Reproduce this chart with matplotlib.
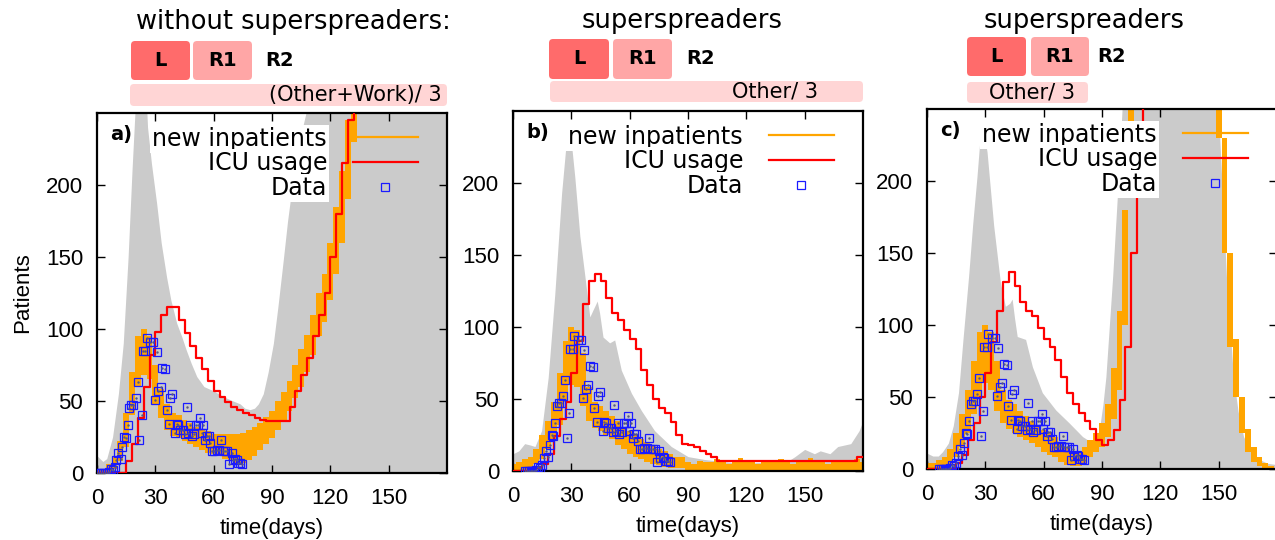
import matplotlib
matplotlib.use('Agg')
import matplotlib.pyplot as plt
import numpy as np
from matplotlib.patches import FancyBboxPatch
from matplotlib.transforms import IdentityTransform
from matplotlib.lines import Line2D

plt.rcParams['font.family'] = ['Liberation Sans', 'DejaVu Sans']

W, H = 1275, 540

# ---- data ----
# observed ICU data, days as in panel a; panels b, c are shifted
data_day = [0, 1, 2, 3, 4, 5, 6, 7, 8, 9, 10,
            11.0, 12.2, 13.0, 13.9, 14.7, 15.8, 16.6, 17.5, 18.7, 19.9,
            20.9, 21.8, 23.0, 23.5, 24.7, 25.6, 27.3, 29.0, 29.8, 30.7,
            31.6, 32.7, 33.6, 35.0, 35.8, 37.0, 37.6, 38.8, 40.1, 41.0,
            41.8, 42.7, 44.4, 45.3, 46.1, 47.0, 47.8, 48.7, 49.9, 50.9,
            52.1, 53.0, 53.8, 54.7, 55.6, 56.4, 57.4, 58.1, 59.3, 60.2,
            61.6, 62.8, 63.8, 64.7, 65.8, 67.0, 68.1, 69.3, 69.8, 71.0,
            71.8, 72.7, 73.6, 74.7]
data_val = [0, 0, 0, 0, 0, 0, 1, 3, 2, 4, 9,
            14, 10, 18, 25, 24, 33, 45, 47, 47, 52,
            63, 23, 40, 85, 85, 94, 91, 91, 51, 84,
            57, 60, 73, 72, 44, 34, 52, 55, 28, 34,
            33, 30, 30, 27, 46, 28, 33, 26, 27, 33,
            33, 38, 28, 33, 23, 26, 26, 21, 15, 15,
            16, 16, 23, 15, 15, 15, 6, 14, 9, 10,
            9, 7, 7, 6]
data_shift = [0, 6, 6]

# simulation envelope (grey)
gray_a_day = [0, 3, 5, 8, 11, 13.5, 16, 18, 19.5, 21, 24, 26, 28, 30.7, 33, 35.8, 38, 41, 43.5, 46,
              48.5, 51.3, 55, 60, 65, 70, 73.6, 76, 78.7, 81, 83, 85.5, 88, 90.7, 93, 95.8, 98, 101,
              104, 107.8, 110, 180]
gray_a_val = [12, 8, 10, 25, 55, 90, 150, 210, 250, 300, 300, 240, 215, 187, 160, 136, 120, 104, 95, 85,
              76, 67, 60, 57, 53, 50, 48, 45, 44, 45, 48, 55, 70, 90, 115, 148, 175, 206,
              230, 252, 300, 300]
gray_b_day = [0, 3, 6, 9, 11.3, 14.7, 18.1, 21.5, 25, 27.5, 28.7, 30, 31.8, 34.4, 37, 39.5, 41.2, 43.3,
              44.5, 46.3, 49.7, 52.3, 55.7, 60.9, 66, 72.8, 81.4, 90, 98.5, 115, 130, 141, 145, 150,
              155, 158, 163, 167, 173.7, 178, 180]
gray_b_val = [12, 14, 19, 18, 17, 28, 65, 123, 193, 230, 240, 228, 204, 163, 135, 107, 112, 118,
              110, 93, 89, 91, 70, 54, 42, 28, 17, 10, 8, 5.5, 6, 6.5, 10, 15,
              12, 14, 12, 17, 19, 28, 35]
gray_c_day = [0, 3, 5.8, 8, 11, 13.5, 16.2, 18.5, 21.4, 23.5, 25.7, 27, 28.3, 29.5, 30.9, 34.3, 37.8,
              40.3, 42.5, 43.8, 45, 46.4, 50.7, 54.2, 59.3, 66.2, 73.1, 80, 85.2, 88.6, 90.5, 92,
              95.5, 99, 100.7, 102, 148, 150.7, 154, 157.6, 160, 162.8, 168, 175, 180]
gray_c_val = [11, 9, 9, 12, 18, 30, 53, 90, 134, 170, 203, 225, 236, 232, 220, 169, 129,
              113, 115, 118, 105, 92, 90, 71, 53, 41, 32, 22.5, 18, 27, 45, 64,
              134, 215, 260, 300, 300, 226, 134, 64, 40, 22.5, 8.6, 4, 3]

# new inpatients (orange band, every 3 days: low / high)
inp_a_lo = [0, 0, 1, 3, 8, 18, 40, 60, 68, 65, 48, 38, 30, 26, 24, 22, 20, 18, 16, 14,
            13, 12, 10, 8, 6, 7, 9, 12, 16, 20, 24, 30, 36, 43, 52, 60, 70, 82, 95, 105,
            120, 138, 160, 190, 230] + [400] * 16
inp_a_hi = [2, 3, 6, 12, 22, 42, 70, 95, 100, 95, 75, 58, 48, 42, 40, 37, 35, 32, 30, 29,
            27, 27, 27, 27, 27, 28, 30, 32, 35, 39, 43, 50, 56, 64, 75, 86, 96, 110, 125, 138,
            160, 185, 210, 245, 300] + [400] * 16
inp_b_lo = [0, 0, 0, 2, 5, 8, 15, 22, 32, 48, 60, 58, 45, 35, 30, 28, 25, 22, 18, 15,
            12, 10, 8, 6, 5, 4, 3, 2, 2, 2,
            1, 1, 1, 1, 0, 1, 1, 1, 1, 1, 1, 1, 1, 1, 0, 1, 1, 1, 1, 1,
            1, 1, 1, 1, 1, 1, 1, 1, 1, 1, 1]
inp_b_hi = [5, 6, 8, 10, 15, 25, 35, 48, 68, 90, 100, 98, 82, 58, 48, 45, 42, 38, 35, 30,
            28, 25, 22, 20, 18, 15, 14, 12, 10, 10,
            6, 5, 7, 6, 6, 8, 6, 5, 6, 9, 6, 6, 5, 7, 6, 6, 8, 6, 5, 6,
            6, 9, 6, 6, 5, 6, 7, 6, 6, 8, 6]
inp_c_lo = [0, 0, 0, 1, 3, 8, 15, 25, 38, 50, 60, 55, 40, 32, 28, 25, 22, 20, 18, 15,
            12, 10, 8, 5, 3, 2, 2, 4, 8, 12, 15, 22, 35, 55, 100, 200] + [400] * 14 + \
           [230, 150, 85, 50, 25, 12, 5, 2, 0, 0, 0]
inp_c_hi = [4, 4, 6, 8, 14, 25, 38, 55, 75, 95, 100, 95, 75, 55, 48, 45, 40, 37, 33, 30,
            27, 25, 22, 18, 15, 12, 12, 15, 20, 25, 32, 45, 70, 110, 180, 400] + [400] * 14 + \
           [400, 230, 150, 90, 50, 28, 15, 8, 4, 2, 1]

# ICU usage (red), every 3 days
icu_a = [0, 0, 0, 0, 0, 8, 20, 38, 60, 82, 98, 110, 115, 115, 106, 97, 88, 80, 72, 64,
         57, 53, 49, 46, 44, 42, 40, 38, 37, 36, 36, 36, 36, 46, 57, 68, 80, 95, 110, 125,
         150, 180, 215, 245, 300] + [400] * 16
icu_b = [0, 0, 0, 0, 2, 5, 12, 24, 36, 48, 68, 90, 116, 132, 137, 132, 120, 110, 105, 98,
         92, 85, 70, 60, 50, 44, 40, 34, 25, 19, 18, 17, 14, 12, 10, 7] + [7] * 23 + [10, 10]
icu_c = [0, 0, 0, 0, 0, 4, 10, 20, 32, 50, 67, 88, 110, 130, 137, 127, 116, 110, 106, 98,
         90, 85, 76, 64, 53, 45, 39, 33, 28, 20, 17, 20, 27, 48, 85, 150, 230] + [400] * 24

day_grid = np.arange(0, 181, 3)

gray_days = [gray_a_day, gray_b_day, gray_c_day]
gray_vals = [gray_a_val, gray_b_val, gray_c_val]
inp_lo = [inp_a_lo, inp_b_lo, inp_c_lo]
inp_hi = [inp_a_hi, inp_b_hi, inp_c_hi]
icu = [icu_a, icu_b, icu_c]

panel_tags = ['a)', 'b)', 'c)']
titles = ['without superspreaders:', 'superspreaders', 'superspreaders']
bar_texts = ['(Other+Work)/ 3', 'Other/ 3', 'Other/ 3']
legend_labels = ['new inpatients', 'ICU usage', 'Data']

# ---- layout (image pixels) ----
ax_left = [97, 513, 927]
ax_bottom = [473, 471, 469]
ax_w, ax_h = 350, 360
title_xy = [(293.5, 29), (682.5, 28.5), (1084, 28)]
box_L = [(131, 190, 41, 80), (549, 609, 39, 79), (967, 1026, 37, 76)]
box_R1 = [(193, 252, 41, 80), (613, 672, 39, 79), (1031, 1089, 37, 76)]
r2_xy = [(280, 61), (701, 59), (1112, 57)]
bar_box = [(130, 447, 84, 106), (550, 863, 81, 102), (967, 1088, 82, 103)]
bar_txt = [(442, 95, 'right'), (818, 91.5, 'right'), (1032, 92.5, 'center')]

GRAY = '#cbcbcb'
ORANGE = '#ffa500'
BLUE = '#1a1aff'
C_L, C_R1, C_BAR = '#ff6b6b', '#ffa6a6', '#ffd5d5'

fig = plt.figure(figsize=(W / 100, H / 100), dpi=100)
pix = IdentityTransform()


def add_box(x0, x1, y0, y1, color):
    fig.add_artist(FancyBboxPatch((x0, H - y1), x1 - x0, y1 - y0,
                                  boxstyle='round,pad=0,rounding_size=4',
                                  transform=pix, fc=color, ec='none'))


for k in range(3):
    ax = fig.add_axes([ax_left[k] / W, (H - ax_bottom[k]) / H, ax_w / W, ax_h / H])
    ax.fill_between(gray_days[k], 0, gray_vals[k], color=GRAY, lw=0, zorder=1)
    ax.fill_between(day_grid, inp_lo[k], inp_hi[k], step='mid', color=ORANGE, lw=0, zorder=2)
    ax.step(day_grid, icu[k], where='post', color='red', lw=1.6, zorder=3)
    dd = np.array(data_day) + data_shift[k]
    ax.plot(dd, data_val, ls='none', marker='s', ms=5.5, mfc='none', mec=BLUE, mew=0.9, zorder=4)
    ax.plot(dd, data_val, ls='none', marker='.', ms=1.5, color='#555588', zorder=4)

    ax.set_xlim(0, 180)
    ax.set_ylim(0, 250)
    ax.set_xticks(range(0, 151, 30))
    ax.set_yticks(range(0, 201, 50))
    ax.tick_params(direction='in', length=6, width=1, top=True, right=True, labelsize=16)
    ax.tick_params(axis='x', pad=11)
    ax.tick_params(axis='y', pad=10)
    for s in ax.spines.values():
        s.set_linewidth(1.6)
    ax.set_xlabel('time(days)', fontsize=16, labelpad=6)
    if k == 0:
        ax.set_ylabel('Patients', fontsize=16, labelpad=9)

    ax.text(0.037, 0.94, panel_tags[k], transform=ax.transAxes, ha='left', va='center',
            fontsize=14, fontweight='bold', family='DejaVu Sans', zorder=6)

    handles = [Line2D([], [], color=ORANGE, lw=1.6), Line2D([], [], color='red', lw=1.6),
               Line2D([], [], ls='none', marker='s', ms=5.5, mfc='none', mec=BLUE, mew=0.9)]
    leg = ax.legend(handles, legend_labels, loc='upper right', bbox_to_anchor=(0.917, 0.962),
                    markerfirst=False, frameon=False, handlelength=2.75, handletextpad=1.1,
                    labelspacing=0.03, borderpad=0, borderaxespad=0,
                    prop={'family': 'DejaVu Sans', 'size': 17})
    leg.set_zorder(10)
    for t in leg.get_texts():
        t.set_bbox(dict(facecolor='white', edgecolor='none', pad=1.5))

    # header above each panel
    tx, ty = title_xy[k]
    fig.text(tx, H - ty, titles[k], transform=pix, ha='center', va='baseline',
             fontsize=18.5, family='DejaVu Sans')
    for (x0, x1, y0, y1), col, lab in [(box_L[k], C_L, 'L'), (box_R1[k], C_R1, 'R1')]:
        add_box(x0, x1, y0, y1, col)
        fig.text((x0 + x1) / 2, H - (y0 + y1) / 2, lab, transform=pix, ha='center', va='center',
                 fontsize=14, fontweight='bold', family='DejaVu Sans')
    fig.text(r2_xy[k][0], H - r2_xy[k][1], 'R2', transform=pix, ha='center', va='center',
             fontsize=14, fontweight='bold', family='DejaVu Sans')
    add_box(*bar_box[k], C_BAR)
    bx, by, bha = bar_txt[k]
    fig.text(bx, H - by, bar_texts[k], transform=pix, ha=bha, va='center',
             fontsize=15, family='DejaVu Sans')

fig.savefig('out.png', dpi=100)
